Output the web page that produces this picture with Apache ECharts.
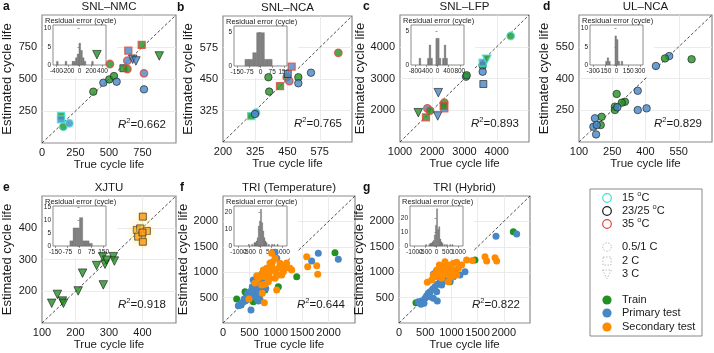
<!DOCTYPE html>
<html><head><meta charset="utf-8">
<script src="https://cdn.jsdelivr.net/npm/echarts@6/dist/echarts.min.js"></script>
<style>html,body{margin:0;padding:0;background:#fff}#c{width:714px;height:353px}</style>
</head><body><div id="c"></div>
<script>
// ---------------- DATA ----------------
const panelTitles = ['SNL–NMC','SNL–NCA','SNL–LFP','UL–NCA','XJTU','TRI (Temperature)','TRI (Hybrid)'];
const panelLetters = ['a','b','c','d','e','f','g'];
const r2Values = ['0.662','0.765','0.893','0.829','0.918','0.644','0.822'];
const axisMin = [0,200,1000,100,100,0,0];
const axisMax = [1000,700,5000,700,500,2500,2500];
const axisStep = [250,125,1000,150,100,500,500];

// rows: [true life, estimated life, set (T train / P primary / S secondary), temperature, rate (c 0.5/1C, s 2C, t 3C)]
const snlNmc = [
 [142,211,'T',15,'s'],[142,185,'P',15,'s'],[159,127,'T',15,'c'],[204,154,'P',15,'c'],
 [383,401,'T',25,'c'],[458,471,'P',25,'c'],[502,497,'T',25,'c'],[537,523,'T',25,'c'],
 [557,479,'P',25,'c'],[507,617,'T',35,'c'],[607,584,'T',25,'s'],[637,643,'P',35,'c'],
 [644,721,'P',35,'s'],[637,578,'T',35,'c'],[677,654,'P',25,'t'],[701,641,'P',25,'t'],
 [744,766,'T',35,'s'],[761,544,'P',35,'c'],[761,419,'P',25,'c'],[875,680,'T',25,'t'],
 [410,690,'T',25,'t']
];
const snlNca = [
 [309,303,'T',15,'s'],[328,316,'P',15,'c'],[324,311,'P',25,'c'],[379,400,'T',25,'c'],
 [376,457,'T',25,'c'],[421,422,'T',35,'s'],[447,457,'T',35,'c'],[457,442,'P',35,'c'],
 [451,470,'P',25,'s'],[466,499,'P',35,'s'],[492,457,'T',25,'c'],[492,433,'P',25,'c'],
 [541,475,'P',25,'c'],[647,554,'T',35,'c']
];
const snlLfp = [
 [1567,1923,'T',25,'t'],[1806,1778,'T',35,'s'],[1848,2061,'P',35,'c'],[1930,1986,'T',35,'c'],
 [2188,2553,'P',25,'t'],[2169,1819,'P',25,'t'],[2375,2238,'T',35,'c'],[2375,2061,'P',35,'s'],
 [2354,2140,'T',35,'s'],[3047,3057,'P',25,'c'],[3068,3100,'T',25,'c'],[3563,3400,'T',25,'c'],
 [3563,3214,'P',25,'c'],[3584,2827,'P',25,'s'],[3563,3498,'P',15,'s'],[3688,3605,'T',15,'t'],
 [4432,4339,'T',15,'c']
];
const ulNca = [
 [608,491,'T',25,'c'],[507,506,'P',25,'c'],[488,495,'T',25,'c'],[447,459,'P',25,'c'],
 [365,342,'P',25,'c'],[365,251,'P',25,'c'],[405,259,'P',25,'c'],[307,290,'T',25,'c'],
 [293,286,'T',25,'c'],[270,327,'T',25,'c'],[262,267,'T',25,'c'],[262,251,'T',25,'c'],
 [273,264,'P',25,'c'],[202,219,'T',25,'c'],[198,180,'T',25,'c'],[172,212,'P',25,'c'],
 [165,172,'P',25,'c'],[180,180,'P',25,'c'],[177,136,'P',25,'c']
];
const xjtu = [
 [129,162,'T',25,'t'],[146,190,'T',25,'t'],[161,169,'T',25,'t'],[164,162,'T',25,'t'],
 [208,201,'T',25,'t'],[221,257,'T',25,'t'],[263,281,'T',25,'t'],[281,309,'T',25,'t'],
 [283,220,'T',25,'t'],[288,285,'T',25,'t'],[293,298,'T',25,'t'],[313,309,'T',25,'t'],
 [316,295,'T',25,'t'],
 [401,435,'S',25,'s'],[383,393,'S',25,'s'],[393,398,'S',25,'s'],[413,390,'S',25,'s'],
 [398,375,'S',25,'s'],[387,372,'S',25,'s'],[401,356,'S',25,'s'],[400,385,'S',25,'s']
];
const triTempTrain = [[259,472],[417,617],[449,551],[732,958],[1048,715],[1396,911],[2121,1384],[574,419],[701,617],[341,354],[795,650]];
const triTempPrimary = [[985,1391],[1017,1273],[1805,1372],[1679,1220],[2184,1254],[638,748],[606,682],[543,650],[593,585],[511,551],[480,485],[449,453],[385,419],[354,388],[290,341],[417,433],[638,485],[669,433],[530,256],[701,459],[808,682],[574,846],[745,827],[846,911],[656,650],[555,715],[468,585],[400,470],[520,600],[560,520],[700,560],[330,360],[760,720]];
const triTempSecondary = [[922,1372],[985,1273],[922,1108],[827,1077],[764,1043],[732,945],[701,911],[638,932],[795,911],[859,978],[890,1011],[953,1043],[1048,1077],[1111,1129],[1143,1011],[1017,958],[985,879],[859,813],[795,761],[732,748],[669,879],[1048,945],[1111,945],[934,1194],[1080,1175],[1174,1077],[1269,1077],[1301,1043],[1017,650],[745,585],[783,400],[492,472],[1585,1305],[1604,1108],[1775,1129],[1794,958],[606,787],[890,879],[890,1181],[1206,1181],[795,1011]];
const triHybTrain = [[2182,1797],[1450,1240],[324,400],[731,1024],[973,813]];
const triHybPrimary = [[1851,1706],[2246,1752],[369,419],[433,433],[496,486],[528,537],[560,584],[592,617],[643,669],[687,715],[731,761],[782,801],[859,827],[941,866],[1037,911],[592,518],[477,387],[731,433],[655,486],[814,748],[973,827],[655,958],[706,1011],[1164,945],[420,368],[719,617],[1260,1011]];
const triHybSecondary = [[541,801],[623,846],[706,911],[751,978],[795,1043],[770,1142],[846,1108],[910,1077],[973,1142],[1037,1175],[1100,1194],[878,978],[941,945],[1005,911],[1069,1011],[1132,1077],[1196,1142],[814,879],[973,1011],[878,1207],[1291,1240],[1400,1230],[1641,1305],[1673,1220],[1832,1286],[1864,1220],[719,1043],[1037,1043],[941,813],[1100,945],[655,945]];

// residual histograms: bin starts, bin width, counts
const histA_starts = [-400,-250,-130,-100,-70,-40,-10,20,50,80,210]; const histA_width = 30; const histA_counts = [1,1,1,1,2,3,6,4,2,1,1];
const histB_starts = [-100,-75,-50,-25,0,25,50]; const histB_width = 25; const histB_counts = [1,1,2,5,5,1,1];
const histC_starts = [-660,-360,-300,-240,-60,0,60,180,240,300]; const histC_width = 60; const histC_counts = [1,1,3,1,4,4,1,1,3,1];
const histD_starts = [-140,-120,-100,-20,0,20,60]; const histD_width = 20; const histD_counts = [1,2,1,8,7,1,1];
const histE_starts = [-60,-40,-20,0,20,40,60]; const histE_width = 20; const histE_counts = [2,7,7,11,2,2,1];
const histF_starts = [-550,-400,-300,-250,-200,-150,-100,-50,0,50,100,150,200,250,350,500,600,750]; const histF_width = 50; const histF_counts = [1,1,2,2,3,5,12,15,22,14,9,5,3,2,1,1,1,1];
const histG_starts = [-500,-350,-300,-250,-200,-150,-100,-50,0,50,100,150,200,250,350,450,600,700]; const histG_width = 50; const histG_counts = [1,1,2,2,3,4,8,15,27,12,14,5,3,2,1,1,1,1];
const histXMin = [-460,-170,-950,-340,-165,-1200,-1200];
const histXMax = [460,170,950,340,165,1200,1200];
const histXTicks = [[-400,-200,0,200,400],[-150,-75,0,75,150],[-800,-400,0,400,800],[-300,-150,0,150,300],[-150,-75,0,75,150],[-1000,-500,0,500,1000],[-1000,-500,0,500,1000]];
const histYMax = [11,6,6,11,15.5,24,29];
const histYTicks = [[0,5,10],[0,5],[0,5],[0,5,10],[0,5,10,15],[0,10,20],[0,10,20]];

// ---------------- STYLE / LAYOUT ----------------
const FONT = "'Liberation Sans',Arial,sans-serif";
const TXT = '#1a1a1a';
const setColor = {T:'#229122', P:'#4787c5', S:'#ff8c00'};
const tempColor = {15:'#40e0d0', 25:'#1a1a1a', 35:'#e8453c'};
const rateSymbol = {c:'circle', s:'rect', t:'triangle'};
const boxes = [[42,15,134,128],[223,16,129,126],[400,15,129,127],[579,15,133,127],[42,196,134,127],[223,196,132,127],[399,196,131,127]];
const plain = v => String(v);

const hists = [
 [histA_starts,histA_width,histA_counts],[histB_starts,histB_width,histB_counts],
 [histC_starts,histC_width,histC_counts],[histD_starts,histD_width,histD_counts],
 [histE_starts,histE_width,histE_counts],[histF_starts,histF_width,histF_counts],
 [histG_starts,histG_width,histG_counts]
];
const panelRows = [snlNmc, snlNca, snlLfp, ulNca, xjtu];

const grids=[], xAxes=[], yAxes=[], series=[], graphics=[];

boxes.forEach((b,i)=>{
  grids.push({left:b[0], top:b[1], width:b[2], height:b[3], show:true, borderColor:'#8c8c8c', borderWidth:1.2, backgroundColor:'rgba(0,0,0,0)', z:0});
  const common = {gridIndex:i, type:'value', min:axisMin[i], max:axisMax[i], interval:axisStep[i],
    axisLine:{show:false}, axisTick:{show:false},
    splitLine:{show:true, showMinLine:false, showMaxLine:false, lineStyle:{color:'#e6e6e6', width:0.8}},
    nameLocation:'middle'};
  xAxes.push(Object.assign({}, common, {
    axisLabel:{showMaxLabel:false, showMinLabel:true, fontSize:11, color:TXT, margin:4, fontFamily:FONT, formatter:plain},
    name:'True cycle life', nameGap:14, nameTextStyle:{fontSize:11.5, color:TXT, fontFamily:FONT}
  }));
  yAxes.push(Object.assign({}, common, {
    axisLabel:{showMaxLabel:false, showMinLabel:false, fontSize:11, color:TXT, margin:5, fontFamily:FONT, formatter:plain},
    name:'Estimated cycle life', nameGap:28, nameTextStyle:{fontSize:13, color:TXT, fontFamily:FONT}
  }));
  // diagonal y = x
  series.push({type:'line', xAxisIndex:i, yAxisIndex:i, z:1, silent:true, symbol:'none',
    data:[[axisMin[i],axisMin[i]],[axisMax[i],axisMax[i]]],
    lineStyle:{color:'#222', width:0.8, type:[3,2]}});
});

// insets
boxes.forEach((b,i)=>{
  const gi = 7+i;
  grids.push({left:b[0]+11, top:b[1]+10, width:53, height:40, show:true, backgroundColor:'#fff', borderColor:'#6e6e6e', borderWidth:0.8, z:3});
  xAxes.push({gridIndex:gi, type:'value', min:histXMin[i], max:histXMax[i], z:3,
    axisLine:{show:false}, splitLine:{show:false},
    axisTick:{show:true, length:2, customValues:histXTicks[i], lineStyle:{color:'#555', width:0.6}},
    axisLabel:{show:false}});
  yAxes.push({gridIndex:gi, type:'value', min:0, max:histYMax[i], z:3,
    axisLine:{show:false}, splitLine:{show:false},
    axisTick:{show:true, length:2, customValues:histYTicks[i], lineStyle:{color:'#555', width:0.6}},
    axisLabel:{customValues:histYTicks[i], fontSize:6.5, margin:2, color:'#222', fontFamily:FONT, hideOverlap:false, formatter:plain}});
  const h = hists[i];
  series.push({type:'custom', xAxisIndex:gi, yAxisIndex:gi, z:4, silent:true,
    data:h[0].map((s,k)=>[s, s+h[1], h[2][k]]),
    encode:{x:[0,1], y:2},
    renderItem:(params, api)=>{
      const p0 = api.coord([api.value(0), api.value(2)]);
      const p1 = api.coord([api.value(1), 0]);
      return {type:'rect', shape:{x:p0[0], y:p0[1], width:p1[0]-p0[0], height:p1[1]-p0[1]},
        style:{fill:'#808080', stroke:'#5e5e5e', lineWidth:0.3}};
    }});
  // inset x tick labels placed through the inset's own scale (kept even where they crowd)
  series.push({type:'custom', xAxisIndex:gi, yAxisIndex:gi, z:4, silent:true, clip:false,
    data:histXTicks[i].map(v=>[v,0]),
    encode:{x:0, y:1},
    renderItem:(params, api)=>{
      const p = api.coord([api.value(0), 0]);
      return {type:'text', x:p[0], y:p[1]+3, style:{text:String(api.value(0)), fontSize:6.5, fontFamily:FONT, fill:'#222', align:'center', verticalAlign:'top'}};
    }});
  graphics.push({type:'rect', z:2, silent:true, shape:{x:b[0]+1, y:b[1]+1, width:74, height:61}, style:{fill:'#fff'}});
  graphics.push({type:'text', z:4, x:b[0]+3, y:b[1]+5.5, style:{text:'Residual error (cycle)', fontSize:7.5, fontFamily:FONT, fill:'#222', verticalAlign:'middle'}});
  // titles, letters, R2
  graphics.push({type:'text', z:6, x:b[0]+b[2]/2, y:b[1]-8, style:{text:panelTitles[i], fontSize:11.5, fontFamily:FONT, fill:TXT, align:'center', verticalAlign:'middle'}});
  graphics.push({type:'text', z:6, x:[3,177,363,543,3,180,363][i], y:b[1]-8, style:{text:panelLetters[i], fontSize:12, fontWeight:'bold', fontFamily:FONT, fill:'#111', verticalAlign:'middle'}});
  graphics.push({type:'text', z:6, x:b[0]+b[2]-10, y:b[1]+b[3]-18, style:{
    text:'{i|R}{s|2}{n|=' + r2Values[i] + '}', align:'right', verticalAlign:'middle', fill:TXT,
    rich:{i:{fontStyle:'italic', fontSize:11.5, lineHeight:16, fontFamily:FONT, fill:TXT},
          s:{fontSize:7.5, lineHeight:6, fontFamily:FONT, verticalAlign:'top', fill:TXT},
          n:{fontSize:11.5, lineHeight:16, fontFamily:FONT, fill:TXT}}}});
});

// scatter a-e
panelRows.forEach((rows,i)=>{
  series.push({type:'scatter', xAxisIndex:i, yAxisIndex:i, z:5,
    data:rows.map(r=>({value:[r[0],r[1]], symbol:rateSymbol[r[4]], symbolRotate:r[4]==='t'?180:0,
      symbolSize:r[4]==='t'?8.5:(r[4]==='s'?7:7.5),
      itemStyle:Object.assign({color:setColor[r[2]], borderColor:tempColor[r[3]], borderWidth:r[3]===25?0.8:1.3},
        r[2]==='S' ? {shadowColor:'rgba(255,236,130,0.8)', shadowBlur:6} : {})}))});
});
// scatter f-g
[[triTempTrain,triTempPrimary,triTempSecondary],[triHybTrain,triHybPrimary,triHybSecondary]].forEach((sets,j)=>{
  const i = 5+j;
  ['T','P','S'].forEach((k,m)=>{
    series.push({type:'scatter', xAxisIndex:i, yAxisIndex:i, z:5, symbol:'circle', symbolSize:7,
      data:sets[m], itemStyle:{color:setColor[k], opacity:1}});
  });
});

// legend (drawn box)
const LX = 590, LY = 189;
graphics.push({type:'rect', z:6, shape:{x:LX, y:LY, width:112, height:147}, style:{fill:'#fff', stroke:'#888', lineWidth:1}});
const legRows = [
  {y:198, kind:'ring', color:tempColor[15], text:'{t|15 }{s|o}{t|C}'},
  {y:211, kind:'ring', color:tempColor[25], text:'{t|23/25 }{s|o}{t|C}'},
  {y:224, kind:'ring', color:tempColor[35], text:'{t|35 }{s|o}{t|C}'},
  {y:247, kind:'dcircle', text:'{t|0.5/1 C}'},
  {y:261, kind:'dsquare', text:'{t|2 C}'},
  {y:274, kind:'dtri', text:'{t|3 C}'},
  {y:300, kind:'fill', color:setColor.T, text:'{t|Train}'},
  {y:313, kind:'fill', color:setColor.P, text:'{t|Primary test}'},
  {y:327, kind:'fill', color:setColor.S, text:'{t|Secondary test}'}
];
legRows.forEach(r=>{
  const cx = 607;
  if (r.kind==='ring') graphics.push({type:'circle', z:7, shape:{cx, cy:r.y, r:4.3}, style:{fill:'none', stroke:r.color, lineWidth:1.2}});
  if (r.kind==='dcircle') graphics.push({type:'circle', z:7, shape:{cx, cy:r.y, r:4.3}, style:{fill:'none', stroke:'#aaa', lineWidth:0.8, lineDash:[1.5,1.5]}});
  if (r.kind==='dsquare') graphics.push({type:'rect', z:7, shape:{x:cx-4, y:r.y-4, width:8, height:8}, style:{fill:'none', stroke:'#aaa', lineWidth:0.8, lineDash:[1.5,1.5]}});
  if (r.kind==='dtri') graphics.push({type:'polygon', z:7, shape:{points:[[cx-4.5,r.y-4],[cx+4.5,r.y-4],[cx,r.y+4.5]]}, style:{fill:'none', stroke:'#aaa', lineWidth:0.8, lineDash:[1.5,1.5]}});
  if (r.kind==='fill') graphics.push({type:'circle', z:7, shape:{cx, cy:r.y, r:4.6}, style:{fill:r.color}});
  graphics.push({type:'text', z:7, x:622, y:r.y, style:{text:r.text, verticalAlign:'middle', fill:TXT,
    rich:{t:{fontSize:11, lineHeight:16, fontFamily:FONT, fill:TXT}, s:{fontSize:7.5, lineHeight:6, fontFamily:FONT, verticalAlign:'top', fill:TXT}}}});
});

const chart = echarts.init(document.getElementById('c'), null, {renderer:'canvas'});
chart.setOption({animation:false, backgroundColor:'#fff', grid:grids, xAxis:xAxes, yAxis:yAxes, series, graphic:{elements:graphics}});
</script></body></html>
